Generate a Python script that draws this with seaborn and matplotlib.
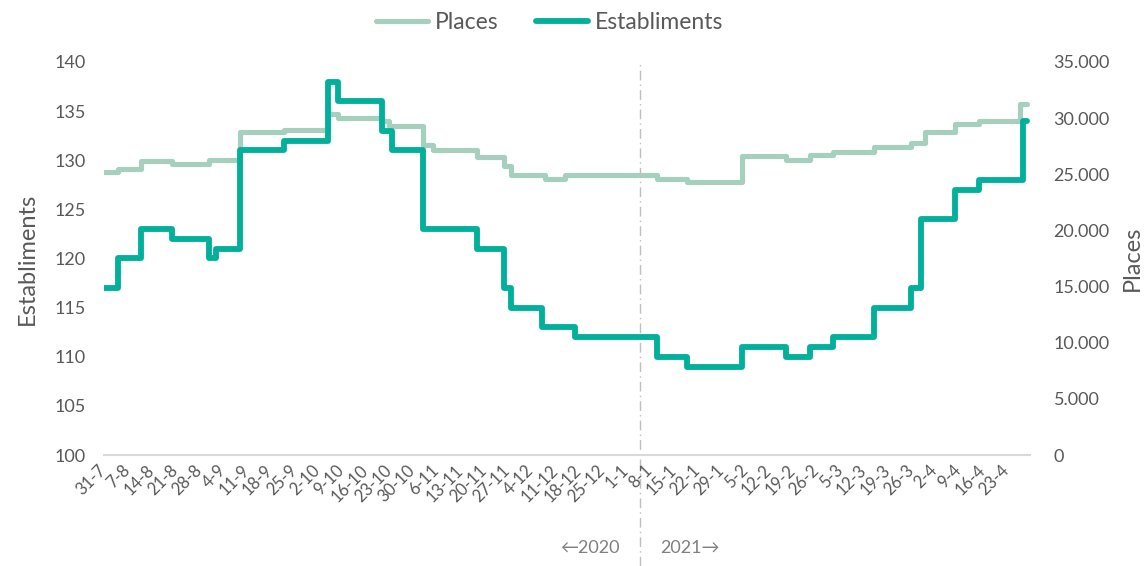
import pandas as pd
import seaborn as sns
import matplotlib.pyplot as plt

# step changes (date the new level starts, value)
est_dates = ["2020-07-31", "2020-08-04", "2020-08-11", "2020-08-20", "2020-08-31",
             "2020-09-02", "2020-09-09", "2020-09-22", "2020-10-05", "2020-10-08",
             "2020-10-21", "2020-10-24", "2020-11-02", "2020-11-18", "2020-11-26",
             "2020-11-28", "2020-12-07", "2020-12-17", "2021-01-10", "2021-01-19",
             "2021-02-04", "2021-02-17", "2021-02-24", "2021-03-03", "2021-03-15",
             "2021-03-26", "2021-03-29", "2021-04-08", "2021-04-15", "2021-04-28",
             "2021-04-29"]
est_values = [117, 120, 123, 122, 120,
              121, 131, 132, 138, 136,
              133, 131, 123, 121, 117,
              115, 113, 112, 110, 109,
              111, 110, 111, 112, 115,
              117, 124, 127, 128, 134,
              134]

places_dates = ["2020-07-31", "2020-08-04", "2020-08-11", "2020-08-20", "2020-08-31",
                "2020-09-09", "2020-09-22", "2020-10-05", "2020-10-08", "2020-10-21",
                "2020-10-23", "2020-11-02", "2020-11-05", "2020-11-18", "2020-11-26",
                "2020-11-28", "2020-12-08", "2020-12-14", "2021-01-10", "2021-01-19",
                "2021-02-04", "2021-02-17", "2021-02-24", "2021-03-03", "2021-03-15",
                "2021-03-26", "2021-03-30", "2021-04-08", "2021-04-15", "2021-04-27",
                "2021-04-29"]
places_values = [25200, 25500, 26200, 25900, 26300,
                 28800, 28900, 30400, 30000, 29700,
                 29300, 27600, 27200, 26500, 25700,
                 24900, 24600, 24900, 24600, 24300,
                 26600, 26300, 26700, 27000, 27400,
                 27800, 28800, 29500, 29700, 31300,
                 31300]

tick_labels = ["31-7", "7-8", "14-8", "21-8", "28-8", "4-9", "11-9", "18-9", "25-9",
               "2-10", "9-10", "16-10", "23-10", "30-10", "6-11", "13-11", "20-11",
               "27-11", "4-12", "11-12", "18-12", "25-12", "1-1", "8-1", "15-1",
               "22-1", "29-1", "5-2", "12-2", "19-2", "26-2", "5-3", "12-3", "19-3",
               "26-3", "2-4", "9-4", "16-4", "23-4", ""]

df_est = pd.DataFrame({"data": pd.to_datetime(est_dates), "Establiments": est_values})
df_places = pd.DataFrame({"data": pd.to_datetime(places_dates), "Places": places_values})

COL_EST = "#00b09b"
COL_PLACES = "#a5d0be"
GREY = "#595959"

sns.set_style("white")
plt.rcParams["font.family"] = ["Lato", "DejaVu Sans"]

fig = plt.figure(figsize=(11.45, 5.66), dpi=100)
ax = fig.add_axes([0.0908, 0.1961, 0.8088, 0.6944])
ax2 = ax.twinx()

sns.lineplot(data=df_places, x="data", y="Places", ax=ax2, color=COL_PLACES,
             linewidth=3.7, drawstyle="steps-post", solid_capstyle="round",
             solid_joinstyle="round", label="Places", legend=False)
sns.lineplot(data=df_est, x="data", y="Establiments", ax=ax, color=COL_EST,
             linewidth=4.2, drawstyle="steps-post", solid_capstyle="round",
             solid_joinstyle="round", label="Establiments", legend=False)

# left axis on top so the teal line covers the light one
ax.set_zorder(ax2.get_zorder() + 1)
ax.patch.set_visible(False)

ax.set_ylim(100, 140)
ax.set_yticks(range(100, 141, 5))
ax2.set_ylim(0, 35000)
ax2.set_yticks(range(0, 35001, 5000))
ax2.set_yticklabels([f"{v:,}".replace(",", ".") for v in range(0, 35001, 5000)])

ticks = pd.date_range("2020-07-31", periods=len(tick_labels), freq="7D")
ax.set_xlim(ticks[0], ticks[-1])
ax.set_xticks(ticks)
ax.set_xticklabels(tick_labels, rotation=45, ha="right", va="center",
                   rotation_mode="anchor", fontsize=12, color=GREY)
ax.tick_params(axis="x", length=5, width=1.2, color="#d9d9d9", pad=4)
ax.tick_params(axis="y", length=0, pad=13, labelsize=13, labelcolor=GREY)
ax2.tick_params(axis="y", length=0, pad=17, labelsize=13, labelcolor=GREY)

for a in (ax, ax2):
    for s in ("top", "left", "right", "bottom"):
        a.spines[s].set_visible(False)
ax.spines["bottom"].set_visible(True)
ax.spines["bottom"].set_color("#d9d9d9")
ax.spines["bottom"].set_linewidth(1.5)

ax.set_xlabel("")
ax.set_ylabel("Establiments", fontsize=17, color=GREY)
ax2.set_ylabel("Places", fontsize=17, color=GREY)
ax.yaxis.set_label_coords(-0.0713, 0.5)
ax2.yaxis.set_label_coords(1.099, 0.5)

# year divider
ax.axvline(pd.Timestamp("2021-01-05"), ymin=-0.282, ymax=1, clip_on=False,
           color="#bfbfbf", lw=1, ls=(0, (7, 3, 1, 3)), zorder=0)
fig.text(590 / 1145, 1 - 548 / 566, "←2020", ha="center", va="center",
         fontsize=13, color="#808080")
fig.text(690 / 1145, 1 - 548 / 566, "2021→", ha="center", va="center",
         fontsize=13, color="#808080")

h_places = ax2.get_lines()[0]
h_est = ax.get_lines()[0]
fig.legend(handles=[h_places, h_est], labels=["Places", "Establiments"],
           loc="center", bbox_to_anchor=(0.48, 0.961), ncol=2, frameon=False,
           fontsize=16.5, labelcolor=GREY, handlelength=2.3, handletextpad=0.3,
           columnspacing=1.6)

fig.savefig("out.png", dpi=100)
